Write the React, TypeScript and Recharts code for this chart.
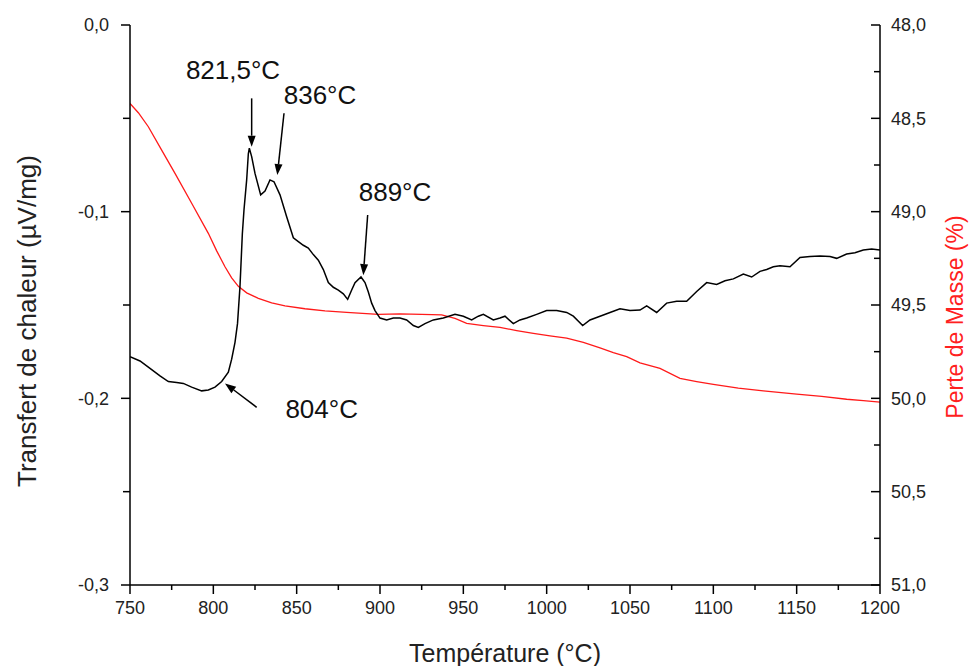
import React from "react";
import { ComposedChart, Line, XAxis, YAxis, ReferenceLine, ReferenceDot } from "recharts";

// DTA curve (heat flow, µV/mg)
const dtaTemp = [
  750, 756, 762, 768, 773, 778, 782, 787, 793, 797, 801, 805, 809, 811, 813, 814.5, 816, 817.4, 818.4,
  820, 821, 821.6, 823, 825, 828.4, 831, 834, 836.4, 840, 844, 848, 851, 854, 857, 860, 863, 866, 869,
  872, 875, 878, 880.6, 883, 885, 888.6, 891, 893, 895, 897, 900, 904, 908, 912, 916, 920, 923, 927,
  932, 938, 945, 950, 955, 959, 962, 968, 972, 975, 980, 984, 988, 994, 1000, 1006, 1012, 1016, 1021.6,
  1026, 1032, 1038, 1044, 1050, 1056, 1060, 1066, 1072, 1078, 1084, 1090, 1096, 1102, 1107, 1112, 1118,
  1123, 1128, 1132, 1136, 1140, 1146, 1152, 1158, 1164, 1170, 1174, 1180, 1185, 1190, 1195, 1200,
];
const dtaValue = [
  -0.1777, -0.18, -0.184, -0.188, -0.191, -0.1915, -0.192, -0.194, -0.196, -0.1955, -0.194, -0.191,
  -0.186, -0.179, -0.17, -0.16, -0.14, -0.112, -0.099, -0.083, -0.069, -0.066, -0.0705, -0.0795, -0.091,
  -0.089, -0.083, -0.084, -0.091, -0.1027, -0.114, -0.116, -0.118, -0.1195, -0.123, -0.126, -0.131,
  -0.138, -0.1405, -0.142, -0.144, -0.147, -0.142, -0.138, -0.135, -0.138, -0.143, -0.149, -0.153,
  -0.157, -0.158, -0.157, -0.157, -0.158, -0.161, -0.162, -0.16, -0.158, -0.157, -0.155, -0.156,
  -0.158, -0.156, -0.155, -0.158, -0.157, -0.156, -0.16, -0.158, -0.157, -0.155, -0.153, -0.153,
  -0.154, -0.156, -0.161, -0.158, -0.156, -0.154, -0.152, -0.153, -0.1527, -0.1505, -0.154, -0.149,
  -0.148, -0.148, -0.1428, -0.138, -0.139, -0.137, -0.136, -0.1334, -0.135, -0.132, -0.131, -0.1295,
  -0.129, -0.1295, -0.1245, -0.124, -0.1237, -0.124, -0.125, -0.1227, -0.122, -0.1205, -0.12, -0.1205,
];

// TG curve (mass loss, %)
const massTemp = [
  750, 755, 761, 769, 777, 787, 797, 802, 807, 811, 815, 820, 827, 835, 843, 855, 867, 880, 899, 912,
  925, 937, 945, 952, 962, 972, 982, 992, 1002, 1012, 1022, 1032, 1040, 1048, 1056, 1068, 1080, 1090,
  1100, 1115, 1130, 1150, 1165, 1180, 1190, 1200,
];
const massValue = [
  48.42, 48.47, 48.545, 48.67, 48.795, 48.955, 49.116, 49.21, 49.295, 49.355, 49.4, 49.435, 49.464,
  49.488, 49.505, 49.52, 49.532, 49.54, 49.55, 49.548, 49.55, 49.553, 49.572, 49.598, 49.61, 49.62,
  49.637, 49.652, 49.665, 49.678, 49.7, 49.73, 49.755, 49.777, 49.81, 49.84, 49.893, 49.91, 49.925,
  49.945, 49.96, 49.977, 49.99, 50.005, 50.012, 50.02,
];

const xTicks = [750, 775, 800, 825, 850, 875, 900, 925, 950, 975, 1000, 1025, 1050, 1075, 1100, 1125, 1150, 1175, 1200];
const leftTicks = [0, -0.05, -0.1, -0.15, -0.2, -0.25, -0.3];
const rightTicks = [48, 48.25, 48.5, 48.75, 49, 49.25, 49.5, 49.75, 50, 50.25, 50.5, 50.75, 51];

// peak annotations: label spot and arrow (tail -> head), in data units
const peakLabels = ["821,5°C", "836°C", "889°C", "804°C"];
const labelAt = [[811.8, -0.0241], [864, -0.0375], [909, -0.0895], [865, -0.2057]];
const arrowFrom = [[823, -0.0393], [842.4, -0.0473], [892.6, -0.1018], [826, -0.2048]];
const arrowTo = [[823, -0.0652], [838.4, -0.0804], [890, -0.134], [807, -0.192]];

const dtaData = dtaTemp.map((t, i) => ({ t, v: dtaValue[i] }));
const massData = massTemp.map((t, i) => ({ t, m: massValue[i] }));

const FONT = "'Liberation Sans', Arial, sans-serif";
const comma = (v: number) => v.toFixed(1).replace(".", ",").replace("-0,0", "0,0");

const XTick = ({ x, y, payload }: any) => {
  const major = payload.value % 50 === 0;
  return (
    <g>
      <line x1={x} y1={y} x2={x} y2={y + (major ? 9 : 5)} stroke="#000" strokeWidth={1.5} />
      {major && (
        <text x={x} y={y + 29} textAnchor="middle" fontSize={18} fill="#222" fontFamily={FONT}>
          {payload.value}
        </text>
      )}
    </g>
  );
};

const LeftTick = ({ x, y, payload }: any) => {
  const v = payload.value;
  const major = Math.abs(v * 10 - Math.round(v * 10)) < 1e-6;
  return (
    <g>
      <line x1={x} y1={y} x2={x - (major ? 9 : 7)} y2={y} stroke="#000" strokeWidth={1.5} />
      {major && (
        <text x={x - 21} y={y} dy="0.35em" textAnchor="end" fontSize={18} fill="#222" fontFamily={FONT}>
          {comma(v)}
        </text>
      )}
    </g>
  );
};

const RightTick = ({ x, y, payload }: any) => {
  const v = payload.value;
  const major = Math.abs(v * 2 - Math.round(v * 2)) < 1e-6;
  return (
    <g>
      <line x1={x} y1={y} x2={x - (major ? 9 : 6)} y2={y} stroke="#000" strokeWidth={1.5} />
      {major && (
        <text x={x + 11} y={y} dy="0.35em" textAnchor="start" fontSize={18} fill="#222" fontFamily={FONT}>
          {comma(v)}
        </text>
      )}
    </g>
  );
};

const arrowShape = (p: any) => {
  const { x1, y1, x2, y2 } = p;
  const len = Math.hypot(x2 - x1, y2 - y1) || 1;
  const ux = (x2 - x1) / len;
  const uy = (y2 - y1) / len;
  const bx = x2 - ux * 11;
  const by = y2 - uy * 11;
  const pts = `${x2},${y2} ${bx - uy * 4},${by + ux * 4} ${bx + uy * 4},${by - ux * 4}`;
  return (
    <g>
      <line x1={x1} y1={y1} x2={bx} y2={by} stroke="#000" strokeWidth={1.5} />
      <polygon points={pts} fill="#000" />
    </g>
  );
};

export default function App() {
  return (
    <div style={{ position: "absolute", left: 0, top: 0, width: 970, height: 666, background: "#fff" }}>
      <ComposedChart width={970} height={666} margin={{ top: 25, right: 0, bottom: 0, left: 0 }}>
        <XAxis
          dataKey="t"
          type="number"
          domain={[750, 1200]}
          ticks={xTicks}
          interval={0}
          height={81}
          tickSize={0}
          tickMargin={0}
          tickLine={false}
          axisLine={{ stroke: "#000", strokeWidth: 1.5 }}
          tick={<XTick />}
          allowDataOverflow
          label={(p: any) => (
            <text
              x={p.viewBox.x + p.viewBox.width / 2}
              y={p.viewBox.y + 77}
              textAnchor="middle"
              fontSize={25}
              fill="#222"
              fontFamily={FONT}
            >
              Température (°C)
            </text>
          )}
        />
        <YAxis
          yAxisId="left"
          type="number"
          domain={[-0.3, 0]}
          ticks={leftTicks}
          interval={0}
          width={130}
          tickSize={0}
          tickMargin={0}
          tickLine={false}
          axisLine={{ stroke: "#000", strokeWidth: 1.5 }}
          tick={<LeftTick />}
          allowDataOverflow
          label={(p: any) => {
            const cx = p.viewBox.x + 27;
            const cy = p.viewBox.y + p.viewBox.height / 2 + 16;
            return (
              <text x={cx} y={cy} transform={`rotate(-90 ${cx} ${cy})`} textAnchor="middle" dy="0.35em" fontSize={26} fill="#222" fontFamily={FONT}>
                Transfert de chaleur (µV/mg)
              </text>
            );
          }}
        />
        <YAxis
          yAxisId="right"
          orientation="right"
          type="number"
          domain={[48, 51]}
          reversed
          ticks={rightTicks}
          interval={0}
          width={90}
          tickSize={0}
          tickMargin={0}
          tickLine={false}
          axisLine={{ stroke: "#000", strokeWidth: 1.5 }}
          tick={<RightTick />}
          allowDataOverflow
          label={(p: any) => {
            const cx = p.viewBox.x + 75;
            const cy = p.viewBox.y + p.viewBox.height / 2 + 12;
            return (
              <text x={cx} y={cy} transform={`rotate(-90 ${cx} ${cy})`} textAnchor="middle" dy="0.35em" fontSize={23} fill="#ff2020" fontFamily={FONT}>
                Perte de Masse (%)
              </text>
            );
          }}
        />
        <Line
          yAxisId="right"
          data={massData}
          dataKey="m"
          type="linear"
          stroke="#ff1a1a"
          strokeWidth={1.3}
          dot={false}
          activeDot={false}
          isAnimationActive={false}
        />
        <Line
          yAxisId="left"
          data={dtaData}
          dataKey="v"
          type="linear"
          stroke="#000"
          strokeWidth={1.5}
          dot={false}
          activeDot={false}
          isAnimationActive={false}
        />
        {peakLabels.map((lab, i) => (
          <ReferenceLine
            key={"a" + i}
            yAxisId="left"
            segment={[
              { x: arrowFrom[i][0], y: arrowFrom[i][1] },
              { x: arrowTo[i][0], y: arrowTo[i][1] },
            ]}
            shape={arrowShape}
          />
        ))}
        {peakLabels.map((lab, i) => (
          <ReferenceDot
            key={"l" + i}
            yAxisId="left"
            x={labelAt[i][0]}
            y={labelAt[i][1]}
            r={0}
            shape={(p: any) => (
              <text x={p.cx} y={p.cy} dy="0.35em" textAnchor="middle" fontSize={26} fill="#111" fontFamily={FONT}>
                {lab}
              </text>
            )}
          />
        ))}
      </ComposedChart>
    </div>
  );
}
